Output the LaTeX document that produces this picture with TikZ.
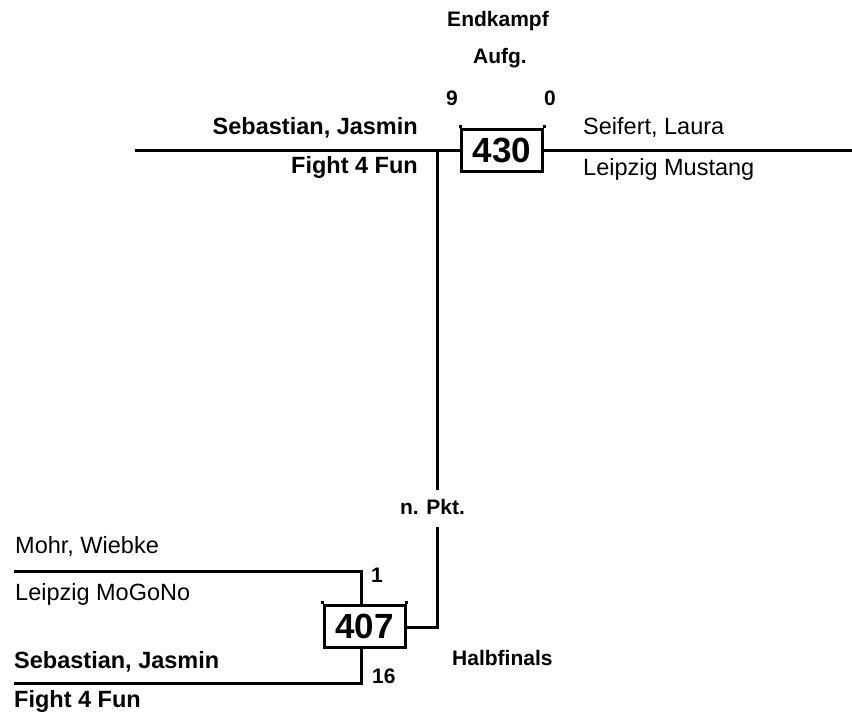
\documentclass[tikz,border=0pt]{standalone}
\usepackage{fontspec}
\setmainfont{Liberation Sans}
\begin{document}
\begin{tikzpicture}[x=1pt,y=-1pt,
  pname/.style={inner sep=0pt, font=\fontsize{23.5}{28}\selectfont},
  bname/.style={inner sep=0pt, font=\fontsize{23.5}{28}\selectfont\bfseries},
  lbl/.style={inner sep=0pt, font=\fontsize{21}{25}\selectfont\bfseries},
  bout/.style={draw, line width=3pt, minimum width=81pt, minimum height=42pt, inner sep=0pt, font=\fontsize{35}{40}\selectfont\bfseries},
  ln/.style={line width=3pt}]
\useasboundingbox (0,0) rectangle (852,725);

% boxes
\node[bout] (b430) at (502,150.5) {430};
\node[bout] (b407) at (364.5,626) {407};
\draw[ln] (b430.north west) -- ++(0,-3);
\draw[ln] (b430.north east) -- ++(0,-3);
\draw[ln] (b407.north west) -- ++(0,-3);
\draw[ln] (b407.north east) -- ++(0,-3);

% labels
\node[lbl, anchor=base] (endk) at (498,27) {Endkampf};
\node[lbl, anchor=base] (aufg) at (500,64) {Aufg.};
\node[lbl, anchor=base] (s9) at (452,106) {9};
\node[lbl, anchor=base] (s0) at (550,106) {0};
\node[lbl, anchor=base] (npkt) at (432.5,514) {n. Pkt.};
\node[lbl, anchor=base] (s1) at (377,582) {1};
\node[lbl, anchor=base west] (s16) at (372,683) {16};
\node[lbl, anchor=base west] (halb) at (452,665) {Halbfinals};

% names
\node[bname, anchor=base east] (n1) at (418,135) {Sebastian, Jasmin};
\node[bname, anchor=base east] (c1) at (418,173) {Fight 4 Fun};
\node[pname, anchor=base west] (n2) at (583,135) {Seifert, Laura};
\node[pname, anchor=base west] (c2) at (583,175) {Leipzig Mustang};
\node[pname, anchor=base west] (n3) at (15,553) {Mohr, Wiebke};
\node[pname, anchor=base west] (c3) at (15,600) {Leipzig MoGoNo};
\node[bname, anchor=base west] (n4) at (14,668) {Sebastian, Jasmin};
\node[bname, anchor=base west] (c4) at (14,707) {Fight 4 Fun};

% connectors
\coordinate (L1) at (135,150.5);
\coordinate (R1) at (852,150.5);
\coordinate (J) at (437,150.5);
\coordinate (N1) at (437,490);
\coordinate (N2) at (437,527);
\coordinate (C) at (437,627);
\coordinate (A1) at (14,571);
\coordinate (A2) at (361,571);
\coordinate (B1) at (14,683);
\coordinate (B2) at (361,683);

\draw[ln] (L1) -- (b430.west);
\draw[ln] (b430.east) -- (R1);
\draw[ln] (J) -- (N1);
\draw[ln] (N2) -- (C) -- (C -| b407.east);
\draw[ln] (A1) -- (A2) -- (A2 |- b407.north);
\draw[ln] (B1) -- (B2) -- (B2 |- b407.south);
\end{tikzpicture}
\end{document}
